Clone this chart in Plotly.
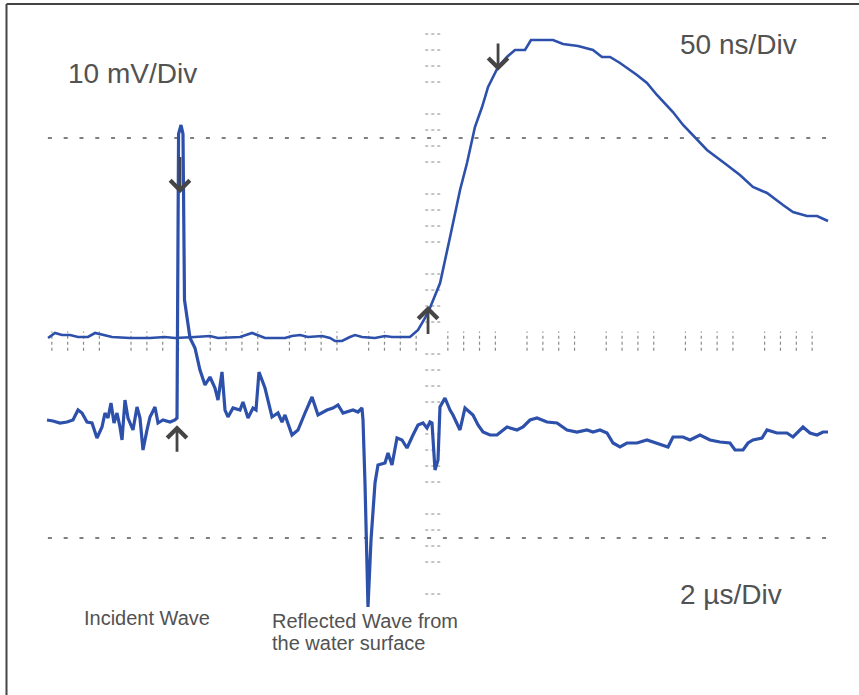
import plotly.graph_objects as go

# ---------------- data ----------------
# Upper trace: 50 ns/Div time base, amplitude in mV (10 mV/Div)
fast_t_ns = [-242.4, -238.0, -233.6, -228.5, -223.5, -217.2, -212.7, -209.6, -202.0, -190.7,
             -178.0, -168.6, -162.2, -149.6, -140.2, -135.1, -121.2, -113.6, -109.8, -105.4,
             -92.8, -88.4, -83.3, -78.3, -69.4, -64.4, -61.2, -56.8, -51.8, -48.6,
             -44.2, -36.0, -29.7, -25.3, -20.2, -13.9, -8.8, -4.4, -1.3, 5.1,
             11.4, 17.7, 22.1, 25.3, 27.1, 31.6, 35.4, 41.7, 47.3, 52.4,
             58.7, 62.5, 76.4, 82.7, 92.2, 101.6, 107.3, 112.4, 118.7, 129.4,
             135.7, 142.0, 152.1, 158.5, 167.3, 173.6, 186.2, 194.4, 202.6, 211.5,
             221.6, 227.9, 236.7, 243.1, 250.0]
fast_v_mV = [0.0, 0.625, 0.375, 0.375, 0.125, 0.125, 0.625, 0.5, 0.125, 0.0,
             0.0, 0.125, 0.0, 0.125, 0.25, 0.0, 0.125, 0.625, 0.375, 0.0,
             0.0, 0.25, 0.375, 0.125, 0.25, 0.0, -0.375, -0.375, 0.125, 0.375,
             0.125, 0.0, 0.25, 0.125, 0.125, 0.125, 1.0, 2.5, 3.75, 6.875,
             12.625, 18.5, 21.875, 24.75, 26.375, 28.875, 31.375, 33.875, 35.125, 36.0,
             36.0, 37.25, 37.25, 36.75, 36.5, 36.0, 35.125, 35.125, 34.375, 32.875,
             31.875, 30.375, 28.25, 26.625, 24.75, 23.5, 21.625, 20.375, 18.875, 18.125,
             16.625, 15.75, 15.25, 15.25, 14.625]

# Lower trace: 2 us/Div time base, amplitude in mV (10 mV/Div)
slow_t_us = [-9.722, -9.571, -9.394, -9.217, -9.066, -8.939, -8.838, -8.712, -8.586, -8.460,
             -8.333, -8.258, -8.182, -8.106, -8.030, -7.955, -7.879, -7.828, -7.753, -7.677,
             -7.551, -7.449, -7.374, -7.298, -7.197, -7.121, -6.995, -6.919, -6.793, -6.616,
             -6.490, -6.439, -6.400, -6.338, -6.288, -6.250, -6.111, -5.985, -5.859, -5.732, -5.606,
             -5.480, -5.404, -5.303, -5.227, -5.152, -5.025, -4.848, -4.773, -4.646, -4.520,
             -4.444, -4.369, -4.217, -4.040, -3.889, -3.788, -3.712, -3.535, -3.384, -3.207,
             -3.030, -2.879, -2.652, -2.500, -2.374, -2.247, -1.995, -1.869, -1.768, -1.742,
             -1.692, -1.616, -1.540, -1.439, -1.364, -1.187, -1.111, -1.010, -0.884, -0.758,
             -0.631, -0.480, -0.354, -0.227, -0.126, -0.051, 0.000, 0.076, 0.152, 0.202,
             0.328, 0.455, 0.530, 0.707, 0.833, 1.035, 1.162, 1.288, 1.465, 1.641,
             1.894, 2.146, 2.298, 2.475, 2.652, 2.904, 3.157, 3.409, 3.662, 3.914,
             4.066, 4.242, 4.419, 4.571, 4.747, 4.924, 5.177, 5.429, 5.581, 5.758,
             5.960, 6.086, 6.338, 6.515, 6.768, 7.020, 7.273, 7.525, 7.652, 7.854,
             7.980, 8.106, 8.333, 8.460, 8.712, 8.965, 9.116, 9.369, 9.545, 9.722,
             9.874, 10.000]
slow_v_mV = [-10.25, -10.375, -10.625, -10.5, -10.25, -9.0, -9.375, -10.5, -10.625, -12.5,
             -11.125, -9.375, -10.0, -8.125, -10.625, -9.375, -11.125, -12.75, -7.75, -10.0,
             -11.5, -8.625, -10.0, -14.0, -11.5, -9.875, -8.625, -10.625, -10.25, -10.5,
             -10.25, -10.0, 25.5, 26.625, 25.5, 4.75, 0.0, -1.25, -4.0, -5.875, -4.875,
             -6.25, -7.75, -4.25, -9.0, -9.875, -8.75, -9.0, -8.0, -10.0, -8.75,
             -9.0, -4.25, -6.25, -9.875, -9.375, -10.5, -9.625, -12.125, -11.5, -9.375,
             -7.375, -9.625, -9.0, -8.75, -8.375, -9.375, -9.0, -9.25, -8.75, -10.25,
             -18.125, -33.625, -25.25, -18.125, -15.875, -15.625, -14.375, -15.875, -12.5, -12.75,
             -13.75, -12.125, -10.875, -10.625, -11.25, -10.5, -10.625, -16.5, -15.25, -8.625,
             -7.5, -9.0, -9.625, -11.5, -8.75, -9.625, -10.875, -11.75, -12.125, -12.125,
             -11.125, -11.5, -11.125, -10.25, -10.0, -10.5, -10.625, -11.5, -11.75, -11.5,
             -11.75, -11.5, -11.875, -13.125, -13.625, -13.125, -13.125, -12.75, -13.0, -13.375,
             -13.625, -12.375, -12.375, -12.75, -12.125, -12.75, -13.0, -13.125, -14.0, -14.0,
             -13.125, -12.75, -12.5, -11.5, -11.875, -11.875, -12.375, -11.125, -11.875, -12.125,
             -11.75, -11.75]

# scale labels
label_volt = "10 mV/Div"
label_fast = "50 ns/Div"
label_slow = "2 µs/Div"
label_incident = "Incident Wave"
label_reflected = ["Reflected Wave from", "the water surface"]

# ---------------- styling / layout constants ----------------
W, H = 859, 695
TRACE = "#2d50ab"
GRID = "#555555"
TICK = "#8a8a8a"
TEXT = "#525252"
FONT = "Liberation Sans, Arial, sans-serif"

X_NS = [-272.73, 269.57]     # 50 ns/div axis
X_US = [-10.909, 10.783]     # 2 us/div axis
Y_MV = [-44.625, 42.25]      # 10 mV/div axis

fig = go.Figure()
fig.add_trace(go.Scatter(x=fast_t_ns, y=fast_v_mV, mode="lines", xaxis="x", yaxis="y",
                         line=dict(color=TRACE, width=2.6), hoverinfo="skip"))
fig.add_trace(go.Scatter(x=slow_t_us, y=slow_v_mV, mode="lines", xaxis="x2", yaxis="y",
                         line=dict(color=TRACE, width=3.2), hoverinfo="skip"))

shapes = []
# graticule dashed lines (+/- 2.5 div)
for yv in (25, -25):
    shapes.append(dict(type="line", xref="x2", yref="y", x0=-9.70, x1=10.05, y0=yv, y1=yv,
                       line=dict(color=GRID, width=1.6, dash="4px,11.8px"), layer="below"))
# minor ticks on the horizontal centre line (every 0.2 div)
for k in range(-24, 26):
    if k % 5 == 0:
        continue
    xv = k * 0.4
    shapes.append(dict(type="line", xref="x2", yref="y", x0=xv, x1=xv, y0=-1.6, y1=0.8,
                       line=dict(color=TICK, width=1.2, dash="dot"), layer="below"))
# minor ticks on the vertical centre line
for k in range(-16, 20):
    if k % 5 == 0:
        continue
    yv = k * 2.0
    shapes.append(dict(type="line", xref="x2", yref="y", x0=-0.17, x1=0.23, y0=yv, y1=yv,
                       line=dict(color=TICK, width=1.2, dash="dot"), layer="below"))
# frame (top and left edges of the scanned figure)
shapes.append(dict(type="line", xref="paper", yref="paper", x0=6.5 / W, x1=6.5 / W,
                   y0=0, y1=1 - 4 / H, line=dict(color="#444444", width=2)))
shapes.append(dict(type="line", xref="paper", yref="paper", x0=6.5 / W, x1=1,
                   y0=1 - 4 / H, y1=1 - 4 / H, line=dict(color="#444444", width=2)))

ann = []
def label(text, px, py, size):
    ann.append(dict(text=text, xref="paper", yref="paper", x=px / W, y=1 - py / H,
                    xanchor="left", yanchor="middle", showarrow=False,
                    font=dict(family=FONT, size=size, color=TEXT)))

label(label_volt, 66, 73.5, 28)
label(label_fast, 678, 44.5, 28)
label(label_slow, 678, 594, 28)
label(label_incident, 82, 618, 20)
label(label_reflected[0], 270, 621, 20)
label(label_reflected[1], 270, 643, 20)

def arrow(xref, tip, tail):
    ann.append(dict(text="", xref=xref, yref="y", axref=xref, ayref="y",
                    x=tip[0], y=tip[1], ax=tail[0], ay=tail[1], showarrow=True,
                    arrowhead=4, arrowsize=1.35, arrowwidth=2.8, arrowcolor="#454545",
                    standoff=0))

arrow("x2", (-6.364, 18.1), (-6.364, 22.8))   # incident peak, pointing down
arrow("x2", (-6.439, -10.9), (-6.439, -14.4))  # incident start, pointing up
arrow("x", (-2.5, 4.0), (-2.5, 0.3))           # fast rise start, pointing up
arrow("x", (41.7, 33.4), (41.7, 37.0))         # fast rise end, pointing down

fig.update_layout(
    width=W, height=H, margin=dict(l=0, r=0, t=0, b=0),
    paper_bgcolor="white", plot_bgcolor="white", showlegend=False,
    xaxis=dict(range=X_NS, visible=False, fixedrange=True),
    xaxis2=dict(range=X_US, visible=False, overlaying="x", fixedrange=True),
    yaxis=dict(range=Y_MV, visible=False, fixedrange=True),
    shapes=shapes, annotations=ann,
)

fig.write_html(
    "out.html", config={"displayModeBar": False},
    post_script=("document.body.style.margin='0';"
                 "document.body.style.overflow='hidden';"
                 "document.documentElement.style.overflow='hidden';"
                 "document.body.style.background='white';"))
